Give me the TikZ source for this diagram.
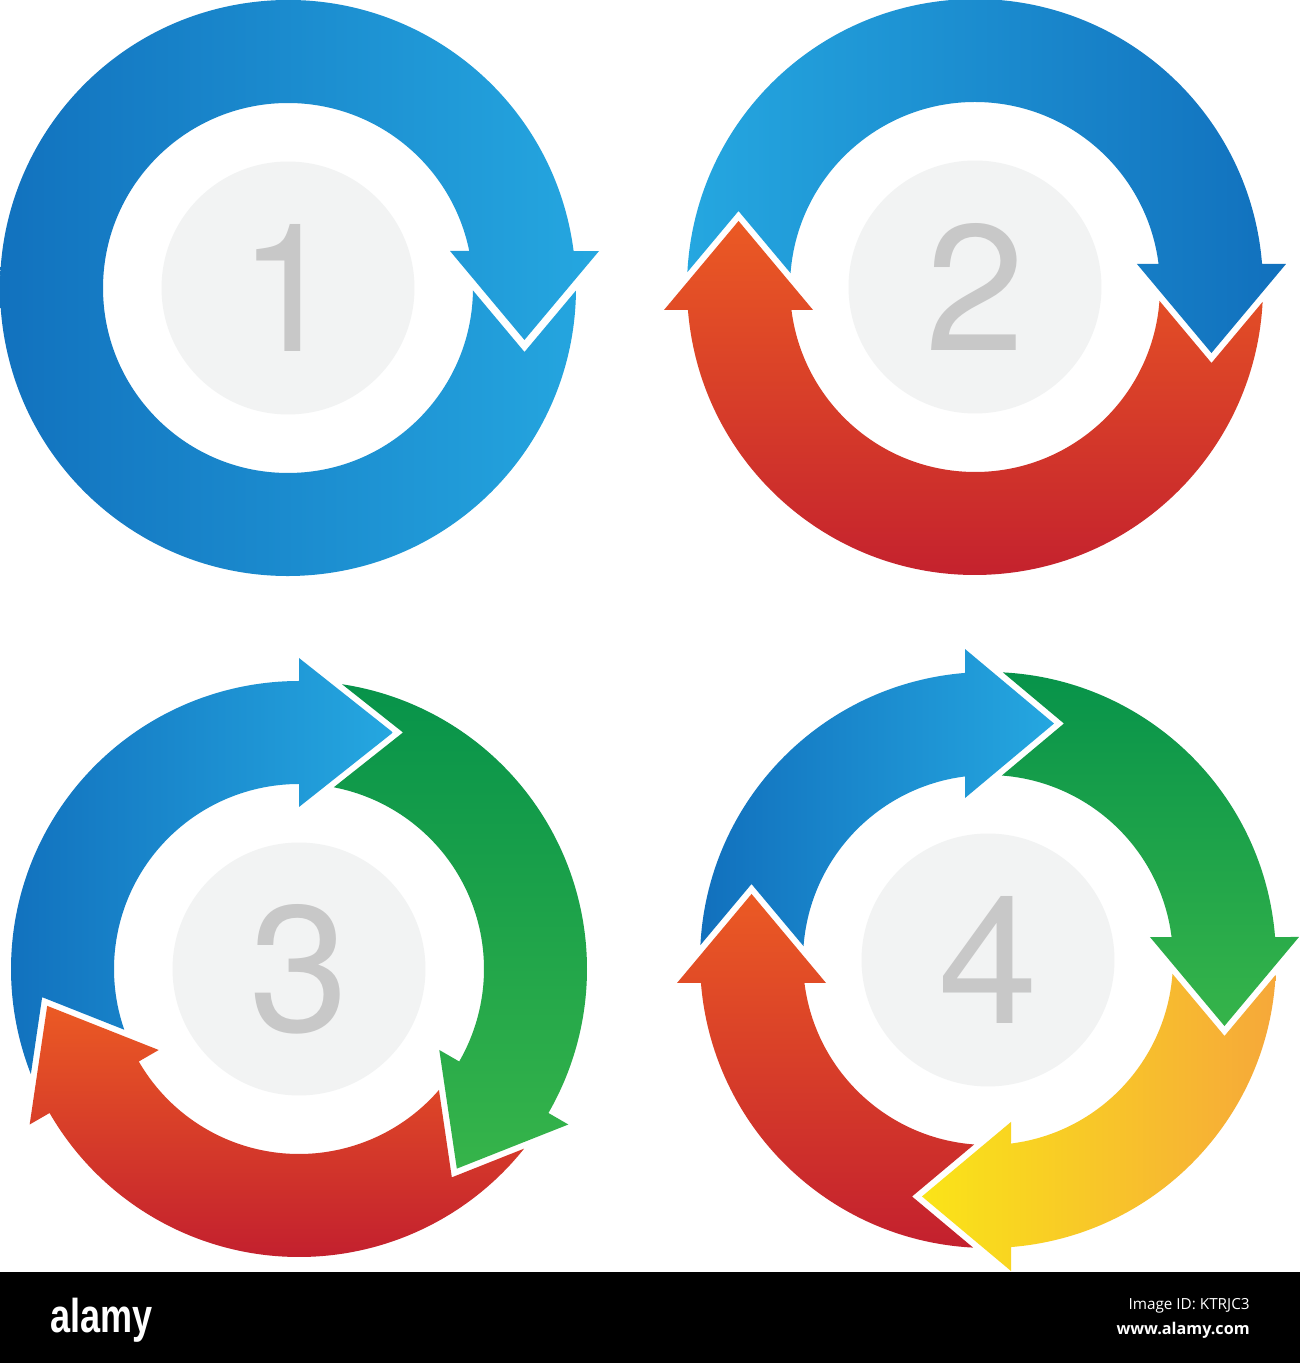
\documentclass[tikz,border=0pt]{standalone}
\usepackage{fontspec}
\setmainfont{Liberation Sans}
\newfontfamily\digitfont{TeX Gyre Heros}
\newfontfamily\barfont{Open Sans}
\usepackage{xcolor}
\usepackage{tikz}
\usetikzlibrary{positioning}

\definecolor{blueDark}{HTML}{1170BD}
\definecolor{blueLight}{HTML}{25A7E0}
\definecolor{redTop}{HTML}{EB5A24}
\definecolor{redBottom}{HTML}{C3202E}
\definecolor{greenTop}{HTML}{07934A}
\definecolor{greenBottom}{HTML}{36B44A}
\definecolor{yellowLeft}{HTML}{FAE418}
\definecolor{amberRight}{HTML}{F6A83A}
\definecolor{diskGray}{HTML}{F2F3F3}
\definecolor{digitGray}{HTML}{C8C8C8}

\tikzset{disk/.style={circle,fill=diskGray,minimum size=5.06cm,inner sep=0pt,
                      text=digitGray,font=\digitfont\fontsize{102}{102}\selectfont},
         blue lr/.style={left color=blueDark,right color=blueLight},
         blue rl/.style={left color=blueLight,right color=blueDark},
         red tb/.style={top color=redTop,bottom color=redBottom},
         green tb/.style={top color=greenTop,bottom color=greenBottom},
         yellow lr/.style={left color=yellowLeft,right color=amberRight}
            }

% ring radii and head geometry (polar offsets from the head / tail angle)
\def\rIn{185}
\def\rOut{288}
\newcommand{\caseA}{\def\endIn{11.54}\def\endOut{7.38}%
  \def\baseInA{12.87}\def\baseInR{166.2}\def\baseOutA{6.78}\def\baseOutR{313.2}%
  \def\tipA{-12.4}\def\tipR{242.1}\def\notchA{-15.14}\def\notchR{245.0}%
  \def\tailIn{-0.77}\def\tailOut{-0.5}}
\newcommand{\caseB}{\def\endIn{7.14}\def\endOut{4.58}%
  \def\baseInA{8.08}\def\baseInR{163.6}\def\baseOutA{4.23}\def\baseOutR{311.85}%
  \def\tipA{-15.6}\def\tipR{245.5}\def\notchA{-17.81}\def\notchR{248.4}%
  \def\tailIn{-4.3}\def\tailOut{-2.97}}
\newcommand{\caseC}{\def\endIn{0}\def\endOut{0}%
  \def\baseInA{0}\def\baseInR{162}\def\baseOutA{0}\def\baseOutR{311}%
  \def\tipA{-21.67}\def\tipR{254.5}\def\notchA{-23.74}\def\notchR{258.4}%
  \def\tailIn{-10.84}\def\tailOut{-8.6}}

% #1 centre, #2 tail angle, #3 head angle, #4 shading
\newcommand{\cyclearrow}[4]{%
  \shade[#4,shift={(#1)}]
    ({#2+\tailIn}:\rIn) arc[start angle={#2+\tailIn},end angle={#3+\endIn},radius=\rIn]
    -- ({#3+\baseInA}:\baseInR) -- ({#3+\tipA}:\tipR) -- ({#3+\baseOutA}:\baseOutR)
    -- ({#3+\endOut}:\rOut)
    arc[start angle={#3+\endOut},end angle={#2+\tailOut},radius=\rOut]
    -- ({#2+\notchA}:\notchR) -- cycle;}

\begin{document}
\begin{tikzpicture}[x=0.02cm,y=0.02cm]

    \fill[white] (0,0) rectangle (1300,1363);
    \useasboundingbox (0,0) rectangle (1300,1363);

    \coordinate (c1) at (288,1075);
    \coordinate (c2) at (975,1076);
    \coordinate (c3) at (299,394);
    \coordinate (c4) at (988,403);

    % one step
    \caseA
    \cyclearrow{c1}{360}{0}{blue lr}
    \node[disk] (one) at (c1) {1};

    % two steps
    \caseB
    \cyclearrow{c2}{180}{0}{blue rl}
    \cyclearrow{c2}{360}{180}{red tb}
    \node[disk] (two) at (c2) {2};

    % three steps
    \caseC
    \cyclearrow{c3}{210}{90}{blue lr}
    \cyclearrow{c3}{90}{-30}{green tb}
    \cyclearrow{c3}{330}{210}{red tb}
    \node[disk] (three) at (c3) {3};

    % four steps
    \caseB
    \cyclearrow{c4}{180}{90}{blue lr}
    \cyclearrow{c4}{90}{0}{green tb}
    \cyclearrow{c4}{0}{-90}{yellow lr}
    \cyclearrow{c4}{270}{180}{red tb}
    \node[disk] (four) at (c4) {4};

    % footer bar
    \fill[black] (0,0) rectangle (1300,91);
    \node[anchor=base west,inner sep=0pt,text=white,xscale=0.76,
          font=\bfseries\fontsize{27}{27}\selectfont] (logo) at (50,31) {alamy};
    \node[anchor=base east,inner sep=0pt,text=white,
          font=\barfont\fontsize{8.7}{9}\selectfont] (imageid) at (1250,53) {Image ID: KTRJC3};
    \node[anchor=base east,inner sep=0pt,text=white,
          font=\barfont\bfseries\fontsize{9.2}{10}\selectfont] (site) at (1250,29) {www.alamy.com};

\end{tikzpicture}
\end{document}
